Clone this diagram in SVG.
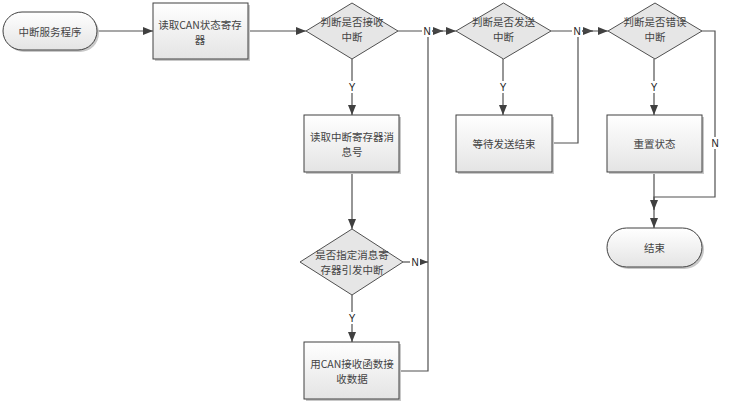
<svg xmlns="http://www.w3.org/2000/svg" width="744" height="403" viewBox="0 0 744 403">
<defs>
<linearGradient id="gb" x1="0" y1="0" x2="0" y2="1">
<stop offset="0" stop-color="#ffffff"/>
<stop offset="1" stop-color="#e4e4e4"/>
</linearGradient>
<marker id="ah" markerUnits="userSpaceOnUse" markerWidth="10" markerHeight="8" refX="10" refY="4" orient="auto">
<path d="M0,0 L10,4 L0,8 z" fill="#404040"/>
</marker>
</defs>
<style>
.box{fill:url(#gb);stroke:#404040;stroke-width:1}
.sh{fill:#c8c8c8;stroke:none}
.dia{fill:#e6e6e6;stroke:#505050;stroke-width:1}
.term{fill:url(#gb);stroke:#404040;stroke-width:1}
.t{font-family:"Noto Sans CJK SC","Liberation Sans",sans-serif;font-size:10.5px;fill:#444444;text-anchor:middle;dominant-baseline:central}
.ca{fill:none;stroke:#505050;stroke-width:1.2;marker-end:url(#ah)}
.lbl{font-family:"Liberation Sans",sans-serif;font-size:10px;fill:#202020;text-anchor:middle;dominant-baseline:central}
.lb{fill:#ffffff}
</style>
<rect width="744" height="403" fill="#ffffff"/>

<g id="connectors">
<path class="ca" d="M97,31 H153"/>
<path class="ca" d="M248,31 H306"/>
<path class="ca" d="M352,59 V115"/>
<path class="ca" d="M398,31 H443"/>
<path class="ca" d="M399,371 H428 V31 H456"/>
<path class="ca" d="M403,262 H428"/>
<path class="ca" d="M352,172 V229"/>
<path class="ca" d="M352,295 V342"/>
<path class="ca" d="M503,59 V115"/>
<path class="ca" d="M551,31 H593"/>
<path class="ca" d="M552,143 H578 V31 H608"/>
<path class="ca" d="M654,59 V115"/>
<path class="ca" d="M654,172 V228"/>
<path class="ca" d="M702,31 H715 V197 H654 V210"/>
<rect class="lb" x="347" y="81" width="10" height="12"/>
<text class="lbl" x="352" y="87">Y</text>
<rect class="lb" x="498" y="81" width="10" height="12"/>
<text class="lbl" x="503" y="87">Y</text>
<rect class="lb" x="649" y="81" width="10" height="12"/>
<text class="lbl" x="654" y="87">Y</text>
<rect class="lb" x="347" y="312" width="10" height="12"/>
<text class="lbl" x="352" y="318">Y</text>
<rect class="lb" x="422" y="25" width="10" height="12"/>
<text class="lbl" x="427" y="31">N</text>
<rect class="lb" x="572" y="25" width="10" height="12"/>
<text class="lbl" x="577" y="31">N</text>
<rect class="lb" x="410" y="256" width="10" height="12"/>
<text class="lbl" x="415" y="262">N</text>
<rect class="lb" x="710" y="137" width="10" height="12"/>
<text class="lbl" x="715" y="143">N</text>
</g>

<g id="start">
<rect class="sh" x="5" y="14" width="94" height="38" rx="19"/>
<rect class="term" x="3" y="12" width="94" height="38" rx="19"/>
<text class="t" x="50" y="31">中断服务程序</text>
</g>

<g id="readCanStatus">
<rect class="sh" x="155" y="5" width="95" height="56"/>
<rect class="box" x="153" y="3" width="95" height="56"/>
<text class="t" x="200" y="24">读取CAN状态寄存</text>
<text class="t" x="200" y="39">器</text>
</g>

<g id="isReceive">
<polygon class="dia" points="352,3 398,31 352,59 306,31"/>
<text class="t" x="352" y="21">判断是否接收</text>
<text class="t" x="352" y="36">中断</text>
</g>

<g id="isSend">
<polygon class="dia" points="503.5,3 551,31 503.5,59 456,31"/>
<text class="t" x="503.5" y="21">判断是否发送</text>
<text class="t" x="503.5" y="36">中断</text>
</g>

<g id="isError">
<polygon class="dia" points="655,3 702,31 655,59 608,31"/>
<text class="t" x="655" y="21">判断是否错误</text>
<text class="t" x="655" y="36">中断</text>
</g>

<g id="readIntReg">
<rect class="sh" x="306" y="117" width="95" height="57"/>
<rect class="box" x="304" y="115" width="95" height="57"/>
<text class="t" x="352" y="136">读取中断寄存器消</text>
<text class="t" x="352" y="151">息号</text>
</g>

<g id="isMsgReg">
<polygon class="dia" points="352,229 403,262 352,295 300,262"/>
<text class="t" x="352" y="254">是否指定消息寄</text>
<text class="t" x="352" y="269">存器引发中断</text>
</g>

<g id="recvData">
<rect class="sh" x="306" y="344" width="95" height="57"/>
<rect class="box" x="304" y="342" width="95" height="57"/>
<text class="t" x="352" y="363">用CAN接收函数接</text>
<text class="t" x="352" y="378">收数据</text>
</g>

<g id="waitSend">
<rect class="sh" x="458" y="117" width="96" height="57"/>
<rect class="box" x="456" y="115" width="96" height="57"/>
<text class="t" x="504" y="143">等待发送结束</text>
</g>

<g id="resetState">
<rect class="sh" x="609" y="117" width="95" height="57"/>
<rect class="box" x="607" y="115" width="95" height="57"/>
<text class="t" x="654.5" y="143">重置状态</text>
</g>

<g id="end">
<rect class="sh" x="609" y="230" width="95" height="39" rx="19.5"/>
<rect class="term" x="607" y="228" width="95" height="39" rx="19.5"/>
<text class="t" x="654.5" y="247.5">结束</text>
</g>
</svg>
